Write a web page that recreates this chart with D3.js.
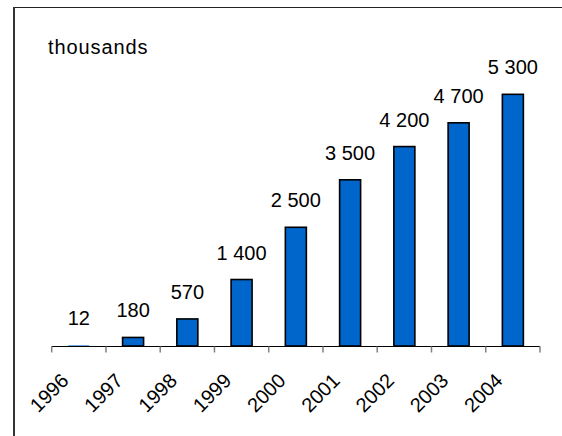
<!DOCTYPE html>
<html>
<head>
<meta charset="utf-8">
<script src="https://cdn.jsdelivr.net/npm/d3@7"></script>
<style>
  html, body { margin: 0; padding: 0; background: #fff; }
  svg { display: block; }
  text { font-family: "Liberation Sans", Arial, sans-serif; fill: #000; }
</style>
</head>
<body>
<svg id="chart" width="562" height="436"></svg>
<script>
const years = ["1996", "1997", "1998", "1999", "2000", "2001", "2002", "2003", "2004"];
const values = [12, 180, 570, 1400, 2500, 3500, 4200, 4700, 5300];
const valueLabels = ["12", "180", "570", "1 400", "2 500", "3 500", "4 200", "4 700", "5 300"];
const unitLabel = "thousands";

const svg = d3.select("#chart");
const W = 562, H = 436;

// frame
svg.append("line").attr("x1", 13).attr("x2", W).attr("y1", 7.5).attr("y2", 7.5)
  .attr("stroke", "#222").attr("stroke-width", 1);
svg.append("line").attr("x1", 14).attr("x2", 14).attr("y1", 7).attr("y2", H)
  .attr("stroke", "#333").attr("stroke-width", 2);

const x = d3.scaleBand().domain(years).range([51.7, 540]).paddingInner(0).paddingOuter(0);
const y = d3.scaleLinear().domain([0, 6000]).range([346, 61.1]);

const barW = 21;

// bars (bars thinner than a pixel are not outlined, as in the reference)
svg.append("g").selectAll("rect").data(values).join("rect")
  .attr("x", (d, i) => x(years[i]) + x.bandwidth() / 2 - barW / 2)
  .attr("y", d => y(d))
  .attr("width", barW)
  .attr("height", d => y(0) - y(d))
  .attr("fill", "#0066CC")
  .attr("stroke", d => (y(0) - y(d)) > 1 ? "#000" : "none")
  .attr("stroke-width", 1.6);

// axis
const axis = d3.axisBottom(x).tickSize(0).tickFormat("");
const gAxis = svg.append("g").attr("transform", `translate(0,${y(0)})`).call(axis);
gAxis.select(".domain").attr("stroke", "#000").attr("stroke-width", 1.2)
  .attr("d", `M${x.range()[0]},0.5H${x.range()[1]}`);
// tick marks at category boundaries
const boundaries = years.map(yr => x(yr)).concat([x.range()[1]]);
gAxis.selectAll(".bound").data(boundaries).join("line").attr("class", "bound")
  .attr("x1", d => d).attr("x2", d => d).attr("y1", 0.5).attr("y2", 6.5)
  .attr("stroke", "#808080").attr("stroke-width", 1.5);

// category labels rotated
svg.append("g").selectAll("text").data(years).join("text")
  .attr("transform", d => `translate(${x(d) + x.bandwidth() / 2 - 9},382) rotate(-45)`)
  .attr("text-anchor", "end")
  .attr("font-size", 20)
  .text(d => d);

// value labels
svg.append("g").selectAll("text").data(values).join("text")
  .attr("x", (d, i) => x(years[i]) + x.bandwidth() / 2)
  .attr("y", d => y(d) - 20)
  .attr("text-anchor", "middle")
  .attr("font-size", 20)
  .text((d, i) => valueLabels[i]);

// unit label
svg.append("text").attr("x", 48).attr("y", 54).attr("font-size", 20)
  .attr("letter-spacing", 0.9).text(unitLabel);
</script>
</body>
</html>
